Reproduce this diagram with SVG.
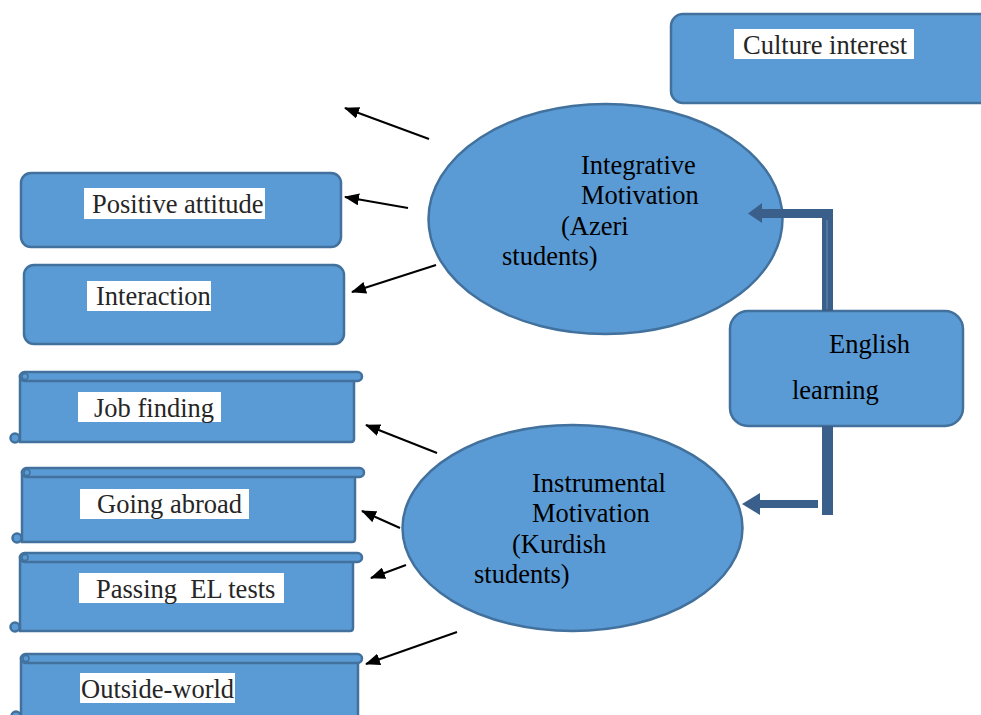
<svg xmlns="http://www.w3.org/2000/svg" width="981" height="715" viewBox="0 0 981 715">
<defs>
<style>
.box{fill:#5B9BD5;stroke:#41719C;stroke-width:2.5}
.lbl{fill:#FFFFFF}
.t{font-family:"Liberation Serif","Times New Roman",serif;font-size:26.5px;fill:#262626;white-space:pre}
.tb{font-family:"Liberation Serif","Times New Roman",serif;font-size:26.5px;fill:#000000}
.conn{stroke:#000;stroke-width:2;fill:none;marker-end:url(#ah)}
.blk{fill:#3A5F8B}
</style>
<marker id="ah" markerWidth="15" markerHeight="12" refX="14" refY="6" orient="auto" markerUnits="userSpaceOnUse" viewBox="0 0 15 12">
<path d="M0,0 L15,6 L0,12 Z" fill="#000"/>
</marker>
</defs>
<rect width="981" height="715" fill="#FFFFFF"/>

<g id="culture-interest">
<rect class="box" x="671" y="14" width="330" height="89" rx="12"/>
<rect class="lbl" x="734" y="29" width="180" height="30"/>
<text class="t" x="743" y="54">Culture interest</text>
</g>

<g id="integrative">
<ellipse class="box" cx="605.500" cy="219" rx="177" ry="115"/>
<text class="tb" x="581" y="174">Integrative</text>
<text class="tb" x="581" y="204">Motivation</text>
<text class="tb" x="561" y="235">(Azeri</text>
<text class="tb" x="502" y="265">students)</text>
</g>

<g id="instrumental">
<ellipse class="box" cx="572.500" cy="528" rx="170" ry="103"/>
<text class="tb" x="532" y="492">Instrumental</text>
<text class="tb" x="532" y="522">Motivation</text>
<text class="tb" x="512" y="553">(Kurdish</text>
<text class="tb" x="474" y="583">students)</text>
</g>

<g id="english-learning">
<rect class="box" x="730" y="311" width="233" height="115" rx="18"/>
<text class="tb" x="829" y="353">English</text>
<text class="tb" x="792" y="399">learning</text>
</g>

<g id="positive-attitude">
<rect class="box" x="21" y="173" width="320" height="74" rx="10"/>
<rect class="lbl" x="84" y="188" width="181" height="31"/>
<text class="t" x="92" y="213">Positive attitude</text>
</g>

<g id="interaction">
<rect class="box" x="24" y="265" width="320" height="79" rx="10"/>
<rect class="lbl" x="87" y="281" width="124" height="30"/>
<text class="t" x="96" y="305">Interaction</text>
</g>

<g id="job-finding">
<path class="box" d="M20,376 H354 V439 Q354,442 351,442 H20 Z"/>
<rect class="box" x="20" y="372" width="342" height="9" rx="4.5"/>
<circle class="box" cx="15" cy="438" r="4.5"/>
<circle cx="25" cy="376.500" r="3" fill="none" stroke="#41719C" stroke-width="1.500"/>
<rect class="lbl" x="78" y="392" width="143" height="30"/>
<text class="t" x="94" y="417">Job finding</text>
</g>

<g id="going-abroad">
<path class="box" d="M22,472 H355 V539 Q355,542 352,542 H22 Z"/>
<rect class="box" x="22" y="468" width="342" height="9" rx="4.5"/>
<circle class="box" cx="17" cy="538" r="4.5"/>
<circle cx="27" cy="472.500" r="3" fill="none" stroke="#41719C" stroke-width="1.500"/>
<rect class="lbl" x="80" y="489" width="169" height="30"/>
<text class="t" x="97" y="513">Going abroad</text>
</g>

<g id="passing-el-tests">
<path class="box" d="M20,557 H353 V628 Q353,631 350,631 H20 Z"/>
<rect class="box" x="20" y="553" width="342" height="9" rx="4.5"/>
<circle class="box" cx="15" cy="627" r="4.5"/>
<circle cx="25" cy="557.500" r="3" fill="none" stroke="#41719C" stroke-width="1.500"/>
<rect class="lbl" x="79" y="573" width="205" height="30"/>
<text class="t" x="96" y="598">Passing  EL tests</text>
</g>

<g id="outside-world">
<path class="box" d="M21,658 H358 V730 H21 Z"/>
<rect class="box" x="21" y="654" width="341" height="9" rx="4.5"/>
<circle class="box" cx="16" cy="716" r="4.5"/>
<circle cx="26" cy="658.500" r="3" fill="none" stroke="#41719C" stroke-width="1.500"/>
<rect class="lbl" x="80" y="673" width="155" height="30"/>
<text class="t" x="81" y="698">Outside-world</text>
</g>

<g id="connectors">
<line class="conn" x1="429" y1="139" x2="345" y2="108"/>
<line class="conn" x1="408" y1="208" x2="345" y2="197"/>
<line class="conn" x1="436" y1="265" x2="352" y2="292"/>
<line class="conn" x1="437" y1="453" x2="366" y2="425"/>
<line class="conn" x1="400" y1="528" x2="362" y2="511"/>
<line class="conn" x1="406" y1="565" x2="371" y2="578"/>
<line class="conn" x1="457" y1="632" x2="366" y2="664"/>
<path class="blk" d="M833,311 V209 H762 V203 L748,213.500 L762,223 V218 H822 V311 Z"/>
<line x1="827" y1="220" x2="827" y2="309" stroke="#6A8DB8" stroke-width="1"/>
<path class="blk" d="M822,426 H833 V515 H822 Z"/>
<path class="blk" d="M818,500 H760 V493 L742,504 L760,515 V508 H818 Z"/>
</g>
</svg>
